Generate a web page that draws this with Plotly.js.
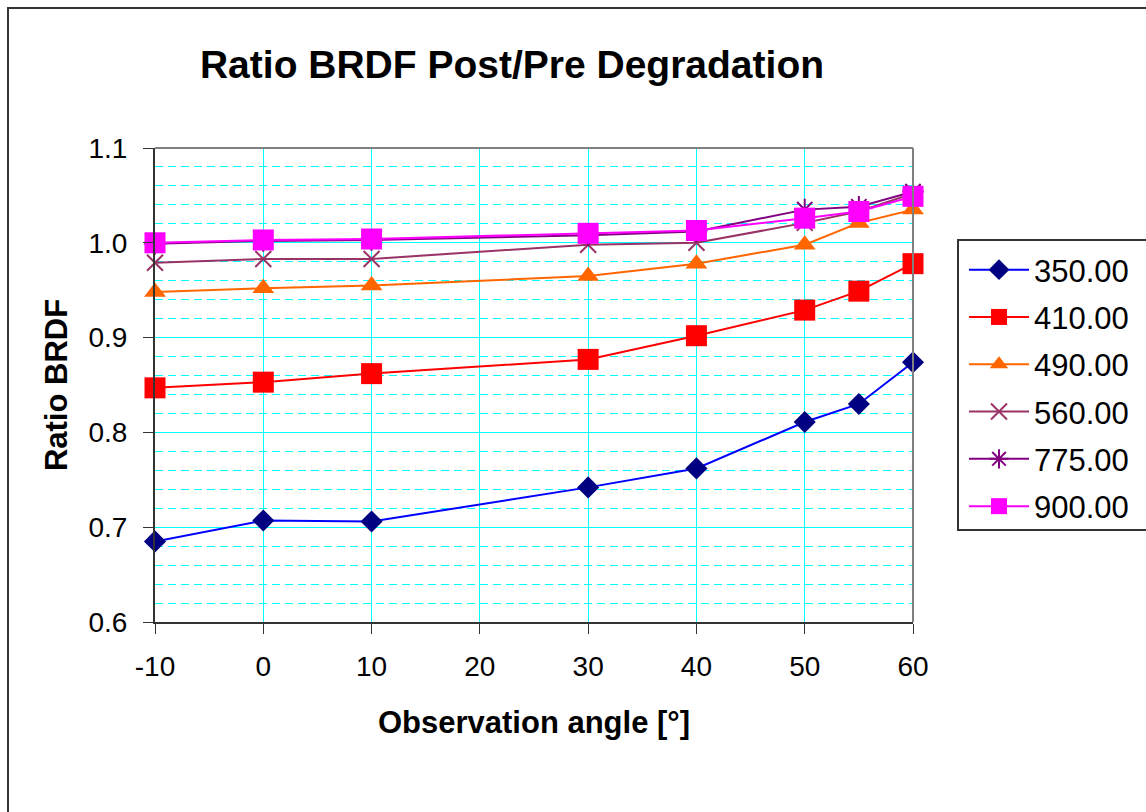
<!DOCTYPE html>
<html>
<head>
<meta charset="utf-8">
<script src="https://cdn.plot.ly/plotly-3.0.1.min.js"></script>
<style>
  html, body { margin: 0; padding: 0; background: #fff; overflow: hidden; }
  #chart { width: 1146px; height: 812px; }
  #frame { position: absolute; left: 7px; top: 7px; width: 1300px; height: 1000px;
           border: 2px solid #333; pointer-events: none; }
</style>
</head>
<body>
<div id="chart"></div>
<div id="frame"></div>
<script>
// Observation angles (deg)
const angles = [-10, 0, 10, 30, 40, 50, 55, 60];
// X tick values and labels (hyphen-minus as in the original)
const xTickVals = [-10, 0, 10, 20, 30, 40, 50, 60];
const xTickText = ['-10', '0', '10', '20', '30', '40', '50', '60'];
// Series names (wavelength)
const seriesNames = ['350.00', '410.00', '490.00', '560.00', '775.00', '900.00'];
// Ratio BRDF values per series
const s350 = [0.685, 0.707, 0.706, 0.742, 0.762, 0.811, 0.830, 0.874];
const s410 = [0.847, 0.853, 0.862, 0.877, 0.902, 0.929, 0.949, 0.978];
const s490 = [0.948, 0.952, 0.955, 0.965, 0.978, 0.998, 1.021, 1.035];
const s560 = [0.979, 0.983, 0.983, 0.998, 1.000, 1.021, 1.033, 1.052];
const s775 = [0.999, 1.002, 1.003, 1.008, 1.012, 1.035, 1.038, 1.054];
const s900 = [1.000, 1.003, 1.004, 1.010, 1.013, 1.026, 1.033, 1.049];
const seriesValues = [s350, s410, s490, s560, s775, s900];

const styles = [
  {line: '#0000FF', marker: {symbol: 'diamond', size: 17, color: '#000080', line: {width: 0}}},
  {line: '#FF0000', marker: {symbol: 'square', size: 21, color: '#FF0000', line: {width: 0}}},
  {line: '#FF6600', marker: {symbol: 'triangle-up', size: 19, color: '#FF6600', line: {width: 0}}},
  {line: '#993366', marker: {symbol: 'x-thin-open', size: 16, color: '#993366', line: {width: 2, color: '#993366'}}},
  {line: '#800080', marker: {symbol: 'asterisk-open', size: 18, color: '#800080', line: {width: 2, color: '#800080'}}},
  {line: '#FF00FF', marker: {symbol: 'square', size: 21, color: '#FF00FF', line: {width: 0}}}
];

const traces = seriesValues.map((vals, i) => ({
  type: 'scatter',
  mode: 'lines+markers',
  x: angles,
  y: vals,
  name: seriesNames[i],
  legendgroup: 'g' + i,
  line: {color: styles[i].line, width: 2},
  marker: styles[i].marker,
  cliponaxis: false
}));

const FONT = '"Liberation Sans", Arial, sans-serif';
const PL = 155, PR = 913, PT = 148, PB = 622;
const pw = PR - PL, ph = PB - PT;

const layout = {
  width: 1146,
  height: 812,
  paper_bgcolor: '#ffffff',
  plot_bgcolor: '#ffffff',
  font: {family: FONT, color: '#000000'},
  margin: {l: PL, r: 1146 - PR, t: PT, b: 812 - PB, pad: 0},
  title: {
    text: '<b>Ratio BRDF Post/Pre Degradation</b>',
    font: {family: FONT, size: 39, color: '#000'},
    x: 512 / 1146, xref: 'container', xanchor: 'center',
    y: 1 - 64 / 812, yref: 'container', yanchor: 'middle'
  },
  xaxis: {
    range: [-10, 60],
    tickmode: 'array', tickvals: xTickVals, ticktext: xTickText,
    showgrid: true, gridcolor: '#00FFFF', gridwidth: 1,
    zeroline: false,
    showline: true, linecolor: '#333333', linewidth: 2,
    ticks: 'outside', ticklen: 10, tickcolor: '#333333', tickwidth: 1,
    tickfont: {family: FONT, size: 28, color: '#000'},
    ticklabelstandoff: 8,
    title: {text: '<b>Observation angle [°]</b>', font: {family: FONT, size: 31, color: '#000'}, standoff: 31}
  },
  yaxis: {
    range: [0.6, 1.1],
    tick0: 0.6, dtick: 0.1, tickformat: '.1f',
    showgrid: true, gridcolor: '#00FFFF', gridwidth: 1,
    minor: {dtick: 0.02, showgrid: true, gridcolor: '#00FFFF', griddash: '8px,5px', gridwidth: 1, ticks: ''},
    zeroline: false,
    showline: true, linecolor: '#333333', linewidth: 2,
    ticks: 'outside', ticklen: 10, tickcolor: '#333333', tickwidth: 1,
    tickfont: {family: FONT, size: 28, color: '#000'},
    ticklabelstandoff: 10,
    title: {text: '<b>Ratio BRDF</b>', font: {family: FONT, size: 31, color: '#000'}, standoff: 12}
  },
  shapes: [
    {type: 'line', xref: 'paper', yref: 'paper', x0: 0, x1: 1, y0: 1, y1: 1, line: {color: '#808080', width: 2}},
    {type: 'line', xref: 'paper', yref: 'paper', x0: 1, x1: 1, y0: 0, y1: 1, line: {color: '#808080', width: 2}},
    // legend frame (extends past the right edge like the original)
    {type: 'rect', xref: 'paper', yref: 'paper',
     x0: (958 - PL) / pw, x1: (1300 - PL) / pw,
     y0: (PB - 530) / ph, y1: (PB - 240) / ph,
     line: {color: '#333333', width: 2}, fillcolor: 'rgba(0,0,0,0)', layer: 'above'}
  ],
  showlegend: true,
  legend: {
    x: (964 - PL) / pw, xanchor: 'left',
    y: (PB - 243) / ph, yanchor: 'top',
    bgcolor: 'rgba(255,255,255,0)',
    borderwidth: 0,
    font: {family: FONT, size: 31, color: '#000'},
    traceorder: 'grouped',
    tracegroupgap: 4,
    itemwidth: 60,
    itemsizing: 'trace'
  }
};

Plotly.newPlot('chart', traces, layout, {displayModeBar: false, staticPlot: true});
</script>
</body>
</html>
